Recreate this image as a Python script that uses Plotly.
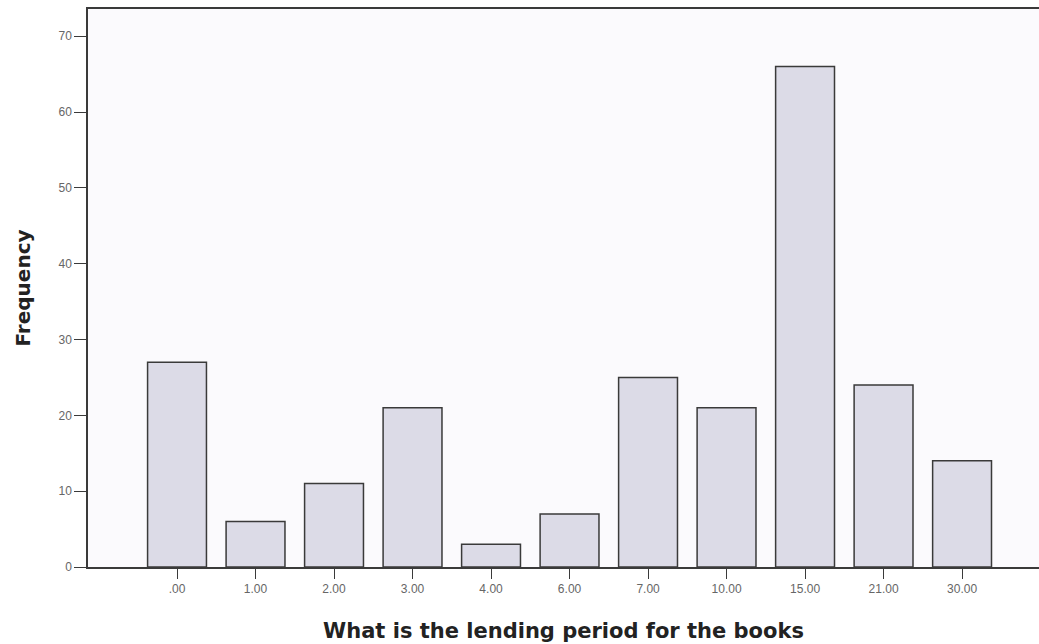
import plotly.graph_objects as go

# lending period categories and their counts
periods = [".00", "1.00", "2.00", "3.00", "4.00", "6.00", "7.00", "10.00", "15.00", "21.00", "30.00"]
freq = [27, 6, 11, 21, 3, 7, 25, 21, 66, 24, 14]
y_ticks = [0, 10, 20, 30, 40, 50, 60, 70]

bars = go.Bar(
    x=periods,
    y=freq,
    marker=dict(color="#dcdbe7", line=dict(color="#3a3a3a", width=1.5)),
    width=0.75,
    hoverinfo="x+y",
)

layout = go.Layout(
    width=1039,
    height=644,
    margin=dict(l=88, r=0, t=9, b=77),
    paper_bgcolor="white",
    plot_bgcolor="#fbfafd",
    showlegend=False,
    font=dict(family="Liberation Sans, Arial, sans-serif", color="#555555", size=12),
    xaxis=dict(
        type="category",
        range=[-1.134, 10.98],
        showline=True,
        linecolor="#3a3a3a",
        linewidth=1.5,
        mirror=True,
        ticks="outside",
        ticklen=10,
        tickcolor="#3a3a3a",
        showgrid=False,
        tickfont=dict(size=12, color="#666666"),
        title=dict(
            text="<b>What is the lending period for the books</b>",
            font=dict(family="DejaVu Sans, sans-serif", size=21, color="#222222"),
            standoff=28,
        ),
    ),
    yaxis=dict(
        range=[0, 73.6],
        tickvals=y_ticks,
        showline=True,
        linecolor="#3a3a3a",
        linewidth=1.5,
        ticks="outside",
        ticklen=12,
        tickcolor="#3a3a3a",
        showgrid=False,
        zeroline=False,
        tickfont=dict(size=12, color="#666666"),
        title=dict(
            text="<b>Frequency</b>",
            font=dict(family="DejaVu Sans, sans-serif", size=20, color="#222222"),
            standoff=22,
        ),
    ),
)

fig = go.Figure(data=[bars], layout=layout)
# drop the default page margin so the figure sits at the window's corner
fig.write_html(
    "out.html",
    config={"displayModeBar": False},
    post_script="document.body.style.margin='0';",
)
